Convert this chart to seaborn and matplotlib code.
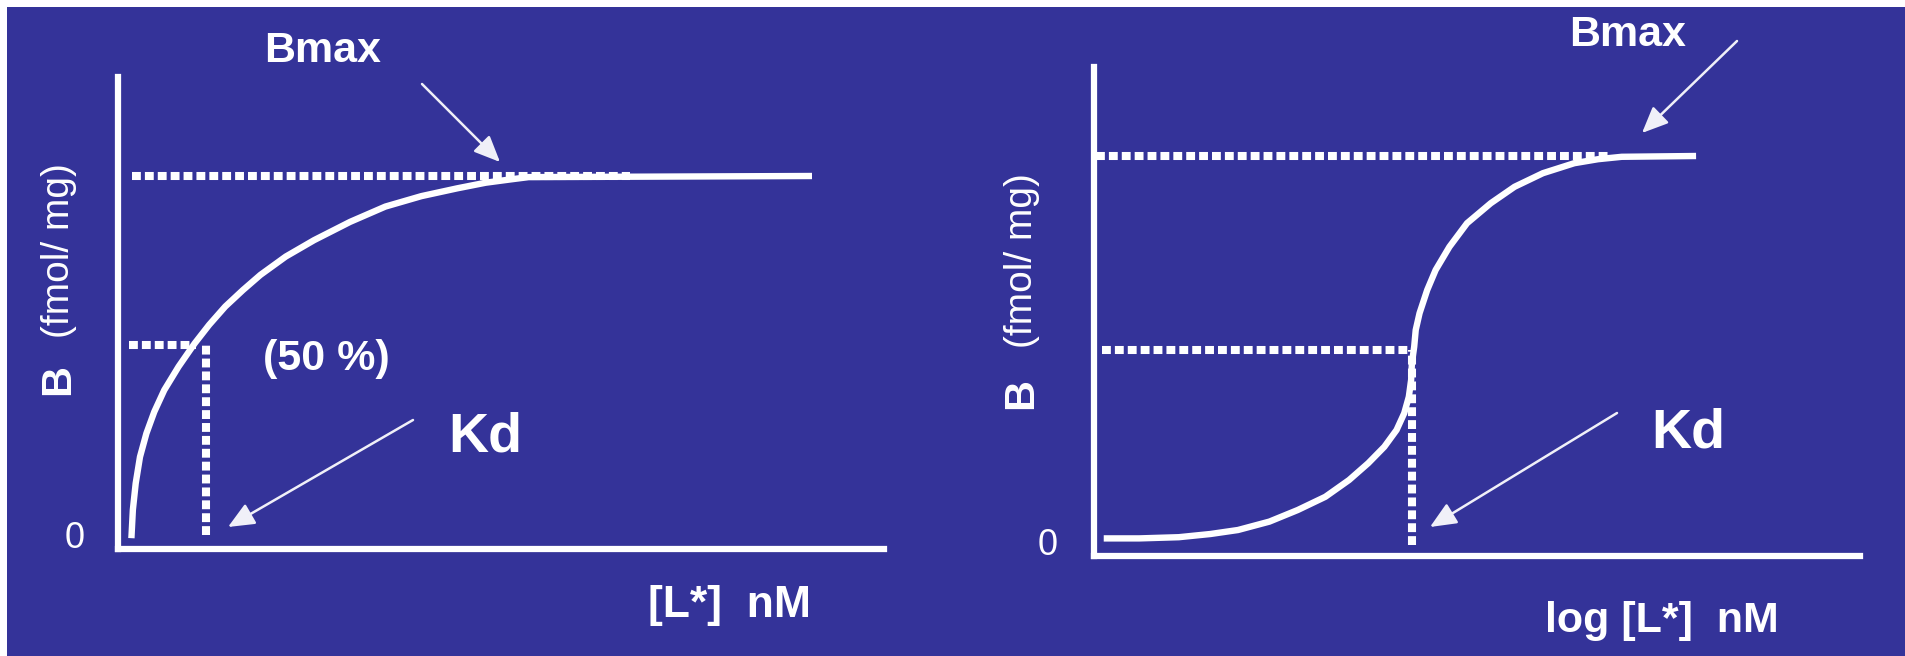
import numpy as np
import pandas as pd
import matplotlib
matplotlib.use("Agg")
import matplotlib.pyplot as plt
from matplotlib.patches import Rectangle
import seaborn as sns

# ---------------- data (arbitrary units, Bmax = 100) ----------------
# left panel : saturation curve, B vs [L*]
left_conc = [1.75, 1.94, 2.31, 2.87, 3.71, 4.74, 6.04, 7.91, 10.0, 11.9, 14.0, 16.3, 18.6,
             21.9, 25.6, 30.3, 34.9, 39.6, 44.3, 48.0, 51.3, 53.6, 90.6]
left_bound = [2.9, 10.5, 17.6, 24.7, 31.0, 36.8, 42.6, 48.9, 55.1, 60.1, 65.0, 69.4, 73.5,
              78.4, 82.8, 87.7, 91.8, 94.6, 96.7, 98.2, 99.1, 99.7, 100.0]
left_bmax = 100.0
left_bmax_span = [1.8, 66.8]
left_half = 54.7
left_half_span = [1.4, 10.2]
left_kd = 11.5
left_kd_base = 3.75

# right panel : sigmoid, B vs log [L*]
right_logc = [1.27, 5.91, 11.07, 15.2, 18.8, 22.9, 26.6, 30.2, 33.3, 35.8, 37.9, 39.5, 40.5,
              41.1, 41.4, 41.5, 41.8, 42.0, 42.5, 43.5, 44.6, 46.4, 48.7, 51.8, 54.9, 58.6,
              62.7, 65.8, 68.9, 78.6]
right_bound = [4.4, 4.4, 4.7, 5.5, 6.5, 8.6, 11.5, 14.8, 19.0, 23.2, 27.3, 31.5, 35.7,
               39.8, 44.0, 48.2, 52.3, 56.5, 60.7, 66.5, 71.5, 77.3, 83.2, 88.2, 92.3, 95.7,
               98.2, 99.2, 99.8, 100.0]
right_bmax = 100.0
right_bmax_span = [0.3, 67.4]
right_half = 51.5
right_half_span = [1.0, 41.8]
right_kd = 41.5
right_kd_base = 2.75

ylabel_b = "B"
ylabel_unit = "(fmol/ mg)"
left_xlabel = "[L*]  nM"
right_xlabel = "log [L*]  nM"

# ---------------- style ----------------
sns.set_style("white")
plt.rcParams['font.family'] = ['Liberation Sans', 'DejaVu Sans']

BLUE = '#343399'
W = 'white'
FW, FH = 1906, 656

fig = plt.figure(figsize=(FW / 100, FH / 100), dpi=100, facecolor='white')
# blue slide background with thin white strip top / left
fig.patches.append(Rectangle((7 / FW, 0), 1 - 7 / FW, 1 - 7 / FH, transform=fig.transFigure,
                             facecolor=BLUE, edgecolor='none', zorder=-10))


def fx(px):
    return px / FW


def fy(py):
    return 1 - py / FH


def make_ax(x0, x1, ytop, ybot, ymax):
    ax = fig.add_axes([fx(x0), fy(ybot), fx(x1) - fx(x0), fy(ytop) - fy(ybot)])
    ax.set_facecolor('none')
    ax.set_xlim(0, 100)
    ax.set_ylim(0, ymax)
    for s in ['top', 'right']:
        ax.spines[s].set_visible(False)
    for s in ['left', 'bottom']:
        ax.spines[s].set_color(W)
        ax.spines[s].set_linewidth(4.5)
    ax.set_xticks([])
    ax.set_yticks([])
    return ax


dash = (0, (1.1, 0.5))
guide_kw = dict(color=W, lw=5.8, linestyle=dash, dash_capstyle='butt', zorder=2)
arrow_kw = dict(arrowstyle='-|>,head_length=0.8,head_width=0.35', color='#f0f0f8',
                lw=1.8, mutation_scale=20, shrinkA=0, shrinkB=0)


def arrow(tail, tip):
    fig.add_artist(matplotlib.patches.FancyArrowPatch(
        (fx(tail[0]), fy(tail[1])), (fx(tip[0]), fy(tip[1])),
        transform=fig.transFigure, **arrow_kw))


def txt(px, py, s, size, bold=True, **kw):
    fig.text(fx(px), fy(py), s, color=W, fontsize=size,
             fontweight='bold' if bold else 'normal', **kw)


# ---------------- left panel ----------------
axL = make_ax(118, 884, 77, 549, (549 - 77) / 3.73)
dfL = pd.DataFrame({'conc': left_conc, 'B': left_bound})
axL.plot(left_bmax_span, [left_bmax, left_bmax], **guide_kw)
axL.plot(left_half_span, [left_half, left_half], **guide_kw)
axL.plot([left_kd, left_kd], [left_kd_base, left_half], **guide_kw)
sns.lineplot(data=dfL, x='conc', y='B', ax=axL, color=W, linewidth=4.6,
             estimator=None, sort=False, zorder=3)
axL.lines[-1].set_solid_capstyle('butt')
axL.lines[-1].set_solid_joinstyle('round')
axL.set_xlabel('')
axL.set_ylabel('')

# ---------------- right panel ----------------
axR = make_ax(1094, 1860, 67, 556, (556 - 67) / 4.0)
dfR = pd.DataFrame({'logc': right_logc, 'B': right_bound})
axR.plot(right_bmax_span, [right_bmax, right_bmax], **guide_kw)
axR.plot(right_half_span, [right_half, right_half], **guide_kw)
axR.plot([right_kd, right_kd], [right_kd_base, right_half], **guide_kw)
sns.lineplot(data=dfR, x='logc', y='B', ax=axR, color=W, linewidth=4.6,
             estimator=None, sort=False, zorder=3)
axR.lines[-1].set_solid_capstyle('butt')
axR.lines[-1].set_solid_joinstyle('round')
axR.set_xlabel('')
axR.set_ylabel('')

# ---------------- annotations ----------------
txt(323, 62, 'Bmax', 31, ha='center', va='baseline')
txt(1628, 46, 'Bmax', 31, ha='center', va='baseline')
txt(326, 370, '(50 %)', 31, ha='center', va='baseline')
txt(485, 452, 'Kd', 40, ha='center', va='baseline')
txt(1688, 448, 'Kd', 40, ha='center', va='baseline')
txt(75, 548, '0', 26, bold=False, ha='center', va='baseline')
txt(1048, 555, '0', 26, bold=False, ha='center', va='baseline')
txt(730, 617, left_xlabel, 32, ha='center', va='baseline')
txt(1662, 632, right_xlabel, 31, ha='center', va='baseline')

for bx, by_b, by_u in [(69, 395, 338), (1032, 409, 348)]:
    txt(bx, by_b, ylabel_b, 31, rotation=90, rotation_mode='anchor', ha='left', va='baseline')
    txt(bx, by_u, ylabel_unit, 28, bold=False, rotation=90, rotation_mode='anchor',
        ha='left', va='baseline')

arrow((422, 84), (500, 162))
arrow((413, 420), (228, 527))
arrow((1737, 41), (1642, 133))
arrow((1617, 413), (1430, 527))

fig.savefig('out.png', dpi=100, facecolor=fig.get_facecolor())
